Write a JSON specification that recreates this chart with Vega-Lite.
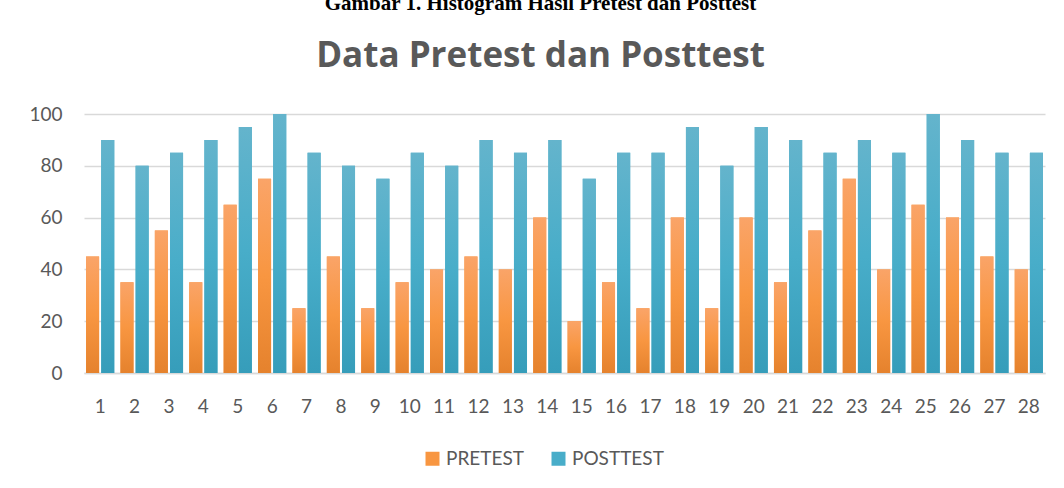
{
  "$schema": "https://vega.github.io/schema/vega-lite/v6.json",
  "autosize": "none",
  "width": 961,
  "height": 259,
  "padding": {"left": 84, "top": 114, "right": 19, "bottom": 115},
  "background": "white",
  "config": {"view": {"stroke": null}},
  "title": {
    "text": "Gambar 1. Histogram Hasil Pretest dan Posttest",
    "subtitle": "Data Pretest dan Posttest",
    "anchor": "middle",
    "frame": "group",
    "dx": -24,
    "offset": 31,
    "font": "Liberation Serif",
    "fontSize": 21,
    "fontWeight": "bold",
    "color": "black",
    "subtitleFont": "Open Sans",
    "subtitleFontSize": 35,
    "subtitleFontWeight": "bold",
    "subtitleColor": "#595959",
    "subtitlePadding": 25
  },
  "data": {
    "values": [
      {"n": 1, "series": "PRETEST", "score": 45}, {"n": 1, "series": "POSTTEST", "score": 90},
      {"n": 2, "series": "PRETEST", "score": 35}, {"n": 2, "series": "POSTTEST", "score": 80},
      {"n": 3, "series": "PRETEST", "score": 55}, {"n": 3, "series": "POSTTEST", "score": 85},
      {"n": 4, "series": "PRETEST", "score": 35}, {"n": 4, "series": "POSTTEST", "score": 90},
      {"n": 5, "series": "PRETEST", "score": 65}, {"n": 5, "series": "POSTTEST", "score": 95},
      {"n": 6, "series": "PRETEST", "score": 75}, {"n": 6, "series": "POSTTEST", "score": 100},
      {"n": 7, "series": "PRETEST", "score": 25}, {"n": 7, "series": "POSTTEST", "score": 85},
      {"n": 8, "series": "PRETEST", "score": 45}, {"n": 8, "series": "POSTTEST", "score": 80},
      {"n": 9, "series": "PRETEST", "score": 25}, {"n": 9, "series": "POSTTEST", "score": 75},
      {"n": 10, "series": "PRETEST", "score": 35}, {"n": 10, "series": "POSTTEST", "score": 85},
      {"n": 11, "series": "PRETEST", "score": 40}, {"n": 11, "series": "POSTTEST", "score": 80},
      {"n": 12, "series": "PRETEST", "score": 45}, {"n": 12, "series": "POSTTEST", "score": 90},
      {"n": 13, "series": "PRETEST", "score": 40}, {"n": 13, "series": "POSTTEST", "score": 85},
      {"n": 14, "series": "PRETEST", "score": 60}, {"n": 14, "series": "POSTTEST", "score": 90},
      {"n": 15, "series": "PRETEST", "score": 20}, {"n": 15, "series": "POSTTEST", "score": 75},
      {"n": 16, "series": "PRETEST", "score": 35}, {"n": 16, "series": "POSTTEST", "score": 85},
      {"n": 17, "series": "PRETEST", "score": 25}, {"n": 17, "series": "POSTTEST", "score": 85},
      {"n": 18, "series": "PRETEST", "score": 60}, {"n": 18, "series": "POSTTEST", "score": 95},
      {"n": 19, "series": "PRETEST", "score": 25}, {"n": 19, "series": "POSTTEST", "score": 80},
      {"n": 20, "series": "PRETEST", "score": 60}, {"n": 20, "series": "POSTTEST", "score": 95},
      {"n": 21, "series": "PRETEST", "score": 35}, {"n": 21, "series": "POSTTEST", "score": 90},
      {"n": 22, "series": "PRETEST", "score": 55}, {"n": 22, "series": "POSTTEST", "score": 85},
      {"n": 23, "series": "PRETEST", "score": 75}, {"n": 23, "series": "POSTTEST", "score": 90},
      {"n": 24, "series": "PRETEST", "score": 40}, {"n": 24, "series": "POSTTEST", "score": 85},
      {"n": 25, "series": "PRETEST", "score": 65}, {"n": 25, "series": "POSTTEST", "score": 100},
      {"n": 26, "series": "PRETEST", "score": 60}, {"n": 26, "series": "POSTTEST", "score": 90},
      {"n": 27, "series": "PRETEST", "score": 45}, {"n": 27, "series": "POSTTEST", "score": 85},
      {"n": 28, "series": "PRETEST", "score": 40}, {"n": 28, "series": "POSTTEST", "score": 85}
    ]
  },
  "encoding": {
    "x": {
      "field": "n", "type": "ordinal",
      "scale": {"paddingInner": 0.18, "paddingOuter": 0.06},
      "axis": {
        "title": null, "labelAngle": 0, "ticks": false,
        "labelFont": "Lato", "labelFontSize": 19, "labelColor": "#595959",
        "labelPadding": 24, "domainColor": "#d9d9d9", "domainWidth": 1.5
      }
    },
    "xOffset": {
      "field": "series", "type": "nominal", "sort": ["PRETEST", "POSTTEST"],
      "scale": {"paddingInner": 0.14}
    },
    "y": {
      "field": "score", "type": "quantitative",
      "scale": {"domain": [0, 100], "nice": false},
      "axis": {
        "title": null, "values": [0, 20, 40, 60, 80, 100],
        "labelOverlap": false, "labelBound": false, "labelFlush": false,
        "ticks": false, "domain": false,
        "labelFont": "Lato", "labelFontSize": 19, "labelColor": "#595959",
        "labelPadding": 22, "gridColor": "#d9d9d9", "gridWidth": 1.5
      }
    }
  },
  "layer": [
    {
      "mark": {"type": "bar"},
      "encoding": {
        "color": {
          "field": "series", "type": "nominal",
          "scale": {"domain": ["PRETEST", "POSTTEST"], "range": ["#F89641", "#48ADC9"]},
          "legend": {
            "title": null, "orient": "none", "legendX": 339, "legendY": 335,
            "direction": "horizontal",
            "symbolType": "square", "symbolSize": 196, "symbolStrokeWidth": 0,
            "labelFont": "Lato", "labelFontSize": 19, "labelColor": "#595959",
            "columnPadding": 24
          }
        }
      }
    },
    {
      "mark": {"type": "bar"},
      "encoding": {
        "fill": {
          "condition": {
            "test": "datum.series === 'PRETEST'",
            "value": {"gradient": "linear", "x1": 0, "y1": 0, "x2": 0, "y2": 1,
              "stops": [{"offset": 0, "color": "#FAA468"}, {"offset": 0.5, "color": "#F89641"}, {"offset": 1, "color": "#E5822D"}]}
          },
          "value": {"gradient": "linear", "x1": 0, "y1": 0, "x2": 0, "y2": 1,
            "stops": [{"offset": 0, "color": "#64B4CC"}, {"offset": 0.5, "color": "#48ADC9"}, {"offset": 1, "color": "#369DBA"}]}
        }
      }
    }
  ]
}
